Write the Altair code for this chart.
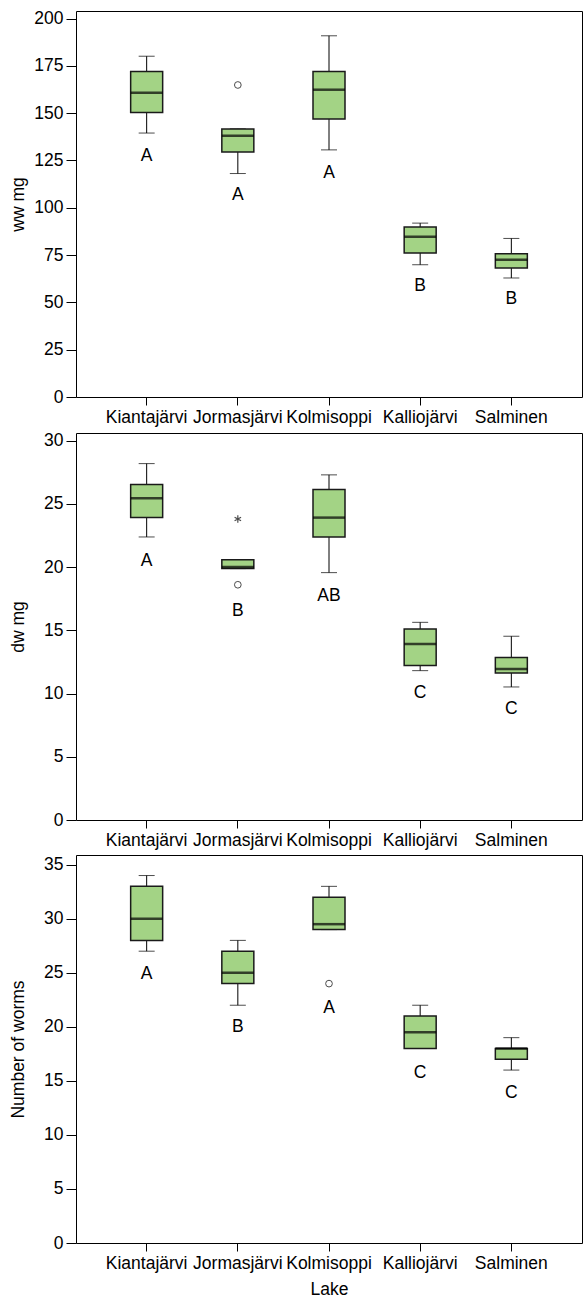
import altair as alt
import pandas as pd

lakes = ["Kiantajärvi", "Jormasjärvi", "Kolmisoppi", "Kalliojärvi", "Salminen"]

# Panel 1: ww mg
ww_lo = [139.5, 118.1, 130.6, 69.9, 62.9]
ww_q1 = [150.4, 129.5, 146.9, 76.1, 68.2]
ww_med = [160.8, 138.1, 162.4, 84.7, 72.6]
ww_q3 = [172.0, 141.7, 172.0, 89.8, 75.7]
ww_hi = [180.1, 141.7, 190.9, 91.9, 83.8]
ww_letters = ["A", "A", "A", "B", "B"]
ww_letter_y = [127.6, 106.9, 118.6, 58.5, 51.8]
ww_out_lake = ["Jormasjärvi"]
ww_out_val = [164.9]
ww_out_sym = ["o"]

# Panel 2: dw mg
dw_lo = [22.38, 19.88, 19.56, 11.81, 10.52]
dw_q1 = [23.91, 19.88, 22.38, 12.21, 11.63]
dw_med = [25.44, 20.0, 23.91, 13.92, 11.94]
dw_q3 = [26.52, 20.57, 26.13, 15.11, 12.84]
dw_hi = [28.18, 20.57, 27.29, 15.63, 14.53]
dw_letters = ["A", "B", "AB", "C", "C"]
dw_letter_y = [20.5, 16.5, 17.74, 10.04, 8.78]
dw_out_lake = ["Jormasjärvi", "Jormasjärvi"]
dw_out_val = [23.8, 18.6]
dw_out_sym = ["*", "o"]

# Panel 3: Number of worms
nw_lo = [27, 22, 29, 18, 16]
nw_q1 = [28, 24, 29, 18, 17]
nw_med = [30, 25, 29.5, 19.5, 18]
nw_q3 = [33, 27, 32, 21, 18]
nw_hi = [34, 28, 33, 22, 19]
nw_letters = ["A", "B", "A", "C", "C"]
nw_letter_y = [24.9, 20.0, 21.7, 15.76, 13.88]
nw_out_lake = ["Kolmisoppi"]
nw_out_val = [24]
nw_out_sym = ["o"]

FONT = "Liberation Sans"
FS = 17.5
GREEN = "#a3d385"
W = 506

STAR = "M0,-1L0,1M-0.87,-0.5L0.87,0.5M-0.87,0.5L0.87,-0.5"


def panel(lo, q1, med, q3, hi, letters, letter_y, out_lake, out_val, out_sym,
          ytitle, ymax, ticks, height, xtitle=None):
    box = pd.DataFrame({"lake": lakes, "lo": lo, "q1": q1, "med": med,
                        "q3": q3, "hi": hi, "letter": letters, "ly": letter_y})
    out = pd.DataFrame({"lake": out_lake, "v": out_val, "sym": out_sym})

    if xtitle is None:
        xaxis = alt.Axis(title=None, labelAngle=0, tickSize=8, labelPadding=3,
                         labelFontSize=FS, labelFont=FONT, domain=False,
                         grid=False, tickColor="black", labelColor="black")
    else:
        xaxis = alt.Axis(title=xtitle, labelAngle=0, tickSize=8,
                         labelPadding=3, labelFontSize=FS, titleFontSize=FS,
                         labelFont=FONT, titleFont=FONT,
                         titleFontWeight="normal", titlePadding=9,
                         domain=False, grid=False, tickColor="black",
                         labelColor="black", titleColor="black")
    x = alt.X("lake:N", sort=lakes,
              scale=alt.Scale(type="band", domain=lakes, paddingInner=0,
                              paddingOuter=0.275),
              axis=xaxis)
    yscale = alt.Scale(domain=[0, ymax], nice=False, zero=True)
    yaxis = alt.Axis(title=ytitle, values=ticks, tickSize=10, labelPadding=3,
                     labelFontSize=FS, titleFontSize=FS, labelFont=FONT,
                     titleFont=FONT, titleFontWeight="normal", domain=False,
                     grid=False, tickColor="black", labelColor="black",
                     titleColor="black", titleX=-58, titleBaseline="middle")

    base = alt.Chart(box)
    whisk = base.mark_rule(color="black", strokeWidth=1).encode(
        x=x, y=alt.Y("lo:Q", scale=yscale, axis=yaxis), y2="hi:Q")
    cap_lo = base.mark_tick(color="black", size=16, thickness=1).encode(
        x=x, y=alt.Y("lo:Q", scale=yscale, axis=yaxis))
    cap_hi = base.mark_tick(color="black", size=16, thickness=1).encode(
        x=x, y=alt.Y("hi:Q", scale=yscale, axis=yaxis))
    boxes = base.mark_bar(size=32, fill=GREEN, stroke="#1a1a1a",
                          strokeWidth=1.5).encode(
        x=x, y=alt.Y("q1:Q", scale=yscale, axis=yaxis), y2="q3:Q")
    medians = base.mark_tick(color="black", size=32, thickness=2.5).encode(
        x=x, y=alt.Y("med:Q", scale=yscale, axis=yaxis))
    labels = base.mark_text(font=FONT, fontSize=FS, color="black",
                            baseline="middle", align="center").encode(
        x=x, y=alt.Y("ly:Q", scale=yscale, axis=yaxis), text="letter:N")
    circ = alt.Chart(out).transform_filter(alt.datum.sym == "o").mark_point(
        shape="circle", filled=False, size=45, color="black",
        strokeWidth=1).encode(x=x, y=alt.Y("v:Q", scale=yscale, axis=yaxis))
    star = alt.Chart(out).transform_filter(alt.datum.sym == "*").mark_point(
        shape=STAR, filled=False, size=55, color="black",
        strokeWidth=1.2).encode(x=x, y=alt.Y("v:Q", scale=yscale, axis=yaxis))
    return alt.layer(whisk, cap_lo, cap_hi, boxes, medians, labels, circ,
                     star).properties(width=W, height=height)


p1 = panel(ww_lo, ww_q1, ww_med, ww_q3, ww_hi, ww_letters, ww_letter_y,
           ww_out_lake, ww_out_val, ww_out_sym, "ww mg", 204,
           [0, 25, 50, 75, 100, 125, 150, 175, 200], 386)
p2 = panel(dw_lo, dw_q1, dw_med, dw_q3, dw_hi, dw_letters, dw_letter_y,
           dw_out_lake, dw_out_val, dw_out_sym, "dw mg", 30.6,
           [0, 5, 10, 15, 20, 25, 30], 387)
p3 = panel(nw_lo, nw_q1, nw_med, nw_q3, nw_hi, nw_letters, nw_letter_y,
           nw_out_lake, nw_out_val, nw_out_sym, "Number of worms", 35.9,
           [0, 5, 10, 15, 20, 25, 30, 35], 388, xtitle="Lake")

chart = alt.vconcat(p1, p2, p3, spacing=5).properties(
    padding={"left": 8, "top": 9, "right": 1, "bottom": 0},
    background="white",
).configure_view(stroke="black", strokeWidth=1)

chart.save("out.html", embed_options={"renderer": "svg", "actions": False})
